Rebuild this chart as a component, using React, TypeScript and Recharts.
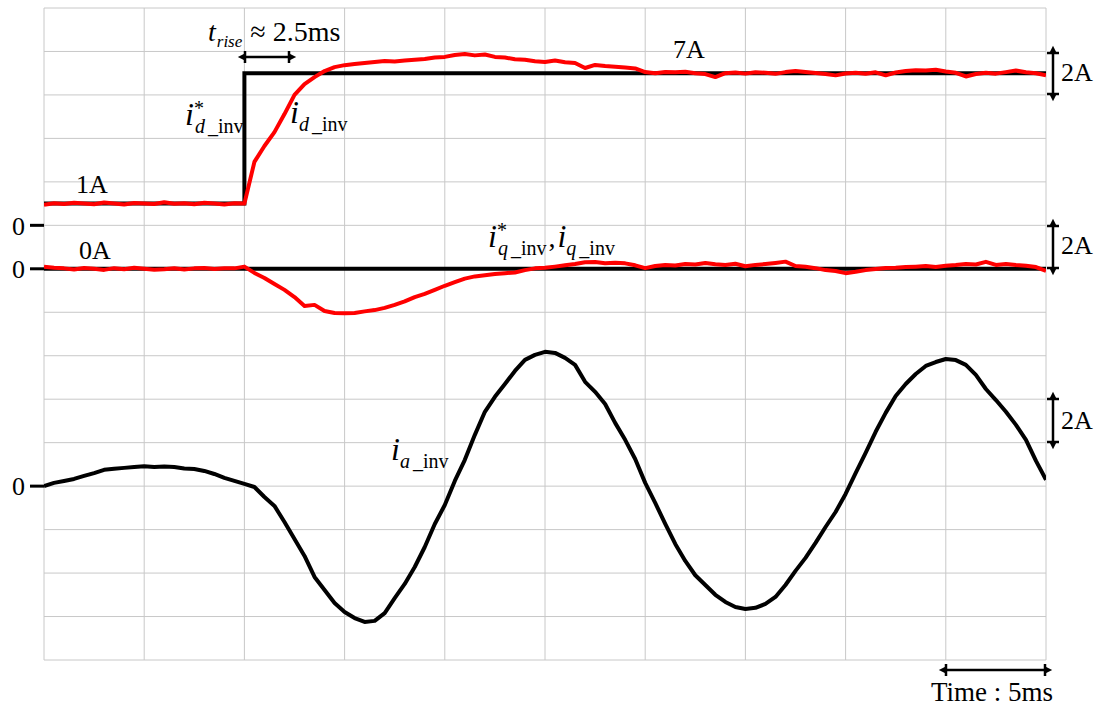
import React from 'react';
import { LineChart, Line, XAxis, YAxis, CartesianGrid } from 'recharts';

const SERIF = '"Liberation Serif", "Times New Roman", serif';

// time base: one sample every 0.5 ms, 10 divisions of 5 ms
const STEP_MS = 0.5;
const timeTicks = [0, 5, 10, 15, 20, 25, 30, 35, 40, 45, 50];
// vertical scale: 15 divisions of 2 A
const divTicks = [0, 2, 4, 6, 8, 10, 12, 14, 16, 18, 20, 22, 24, 26, 28, 30];
// each trace has its own zero on the screen
const ID_OFFSET = 20;
const IQ_OFFSET = 18;
const IA_OFFSET = 8;
const zeroTicks = [IA_OFFSET, IQ_OFFSET, ID_OFFSET];

// measured d-axis current (A)
const idMeasured = [
  0.95, 1.02, 0.98, 1.04, 1.0, 0.97, 1.05, 1.01, 0.96, 1.03, // 0 - 4.5
  1.0, 0.98, 1.06, 0.99, 1.02, 0.97, 1.04, 1.0, 0.96, 1.02, // 5 - 9.5
  1.0, 2.92, 3.65, 4.29, 5.12, 6.0, 6.5, 6.82, 7.1, 7.28, // 10 - 14.5
  7.37, 7.42, 7.47, 7.52, 7.56, 7.54, 7.58, 7.62, 7.65, 7.72, // 15 - 19.5
  7.75, 7.84, 7.88, 7.82, 7.86, 7.75, 7.72, 7.64, 7.62, 7.55, // 20 - 24.5
  7.52, 7.58, 7.5, 7.47, 7.24, 7.38, 7.33, 7.3, 7.26, 7.22, // 25 - 29.5
  7.05, 7.0, 7.06, 7.04, 7.07, 7.0, 6.96, 6.82, 7.0, 7.03, // 30 - 34.5
  6.98, 7.04, 7.02, 6.97, 7.05, 7.1, 7.06, 7.01, 6.96, 6.9, // 35 - 39.5
  6.99, 7.02, 6.97, 7.04, 6.9, 7.03, 7.1, 7.14, 7.12, 7.16, // 40 - 44.5
  7.08, 7.02, 6.85, 6.96, 7.02, 6.98, 7.05, 7.12, 7.04, 7.0, // 45 - 49.5
  6.9,
];

// measured q-axis current (A)
const iqMeasured = [
  0.1, 0.05, 0.02, -0.03, 0.04, 0.0, -0.05, 0.03, -0.02, 0.05,
  0.0, -0.04, -0.02, 0.03, -0.03, 0.02, 0.04, -0.01, 0.03, 0.02,
  0.1, -0.19, -0.42, -0.7, -0.97, -1.3, -1.71, -1.66, -1.94, -2.03,
  -2.05, -2.03, -1.96, -1.9, -1.8, -1.66, -1.5, -1.3, -1.15, -0.97,
  -0.78, -0.61, -0.45, -0.35, -0.3, -0.24, -0.2, -0.17, -0.06, 0.02,
  0.05, 0.1, 0.16, 0.22, 0.3, 0.31, 0.26, 0.28, 0.25, 0.16,
  0.03, 0.13, 0.17, 0.15, 0.22, 0.2, 0.27, 0.21, 0.17, 0.23,
  0.12, 0.18, 0.22, 0.27, 0.33, 0.13, 0.09, 0.03, -0.06, -0.1,
  -0.2, -0.14, -0.06, -0.01, 0.04, 0.05, 0.08, 0.1, 0.13, 0.08,
  0.14, 0.17, 0.22, 0.2, 0.32, 0.18, 0.22, 0.17, 0.14, 0.08,
  -0.1,
];

// phase-a inverter current (A)
const iaMeasured = [
  0.0, 0.15, 0.24, 0.33, 0.47, 0.6, 0.75, 0.8, 0.84, 0.88,
  0.91, 0.88, 0.9, 0.88, 0.81, 0.79, 0.7, 0.56, 0.38, 0.24,
  0.1, -0.04, -0.5, -0.91, -1.65, -2.43, -3.21, -4.18, -4.78, -5.38,
  -5.79, -6.07, -6.25, -6.2, -5.84, -5.15, -4.5, -3.72, -2.8, -1.74,
  -0.87, 0.24, 1.21, 2.36, 3.42, 4.11, 4.7, 5.3, 5.81, 6.04,
  6.18, 6.13, 5.9, 5.58, 4.8, 4.34, 3.78, 2.91, 2.13, 1.25,
  0.15, -0.77, -1.74, -2.66, -3.44, -4.1, -4.55, -5.0, -5.33, -5.56,
  -5.65, -5.6, -5.42, -5.1, -4.55, -3.9, -3.3, -2.61, -1.88, -1.19,
  -0.36, 0.6, 1.53, 2.5, 3.37, 4.15, 4.7, 5.16, 5.53, 5.71,
  5.85, 5.8, 5.58, 5.12, 4.47, 3.96, 3.42, 2.82, 2.13, 1.16,
  0.29,
];

// references
const idRefTime = [0, 10, 10, 50];
const idRefValue = [1, 1, 7, 7];
const iqRefTime = [0, 50];
const iqRefValue = [0, 0];

const data = iaMeasured.map((v, i) => ({
  t: i * STEP_MS,
  id: idMeasured[i] + ID_OFFSET,
  iq: iqMeasured[i] + IQ_OFFSET,
  ia: v + IA_OFFSET,
}));
const idRefData = idRefTime.map((t, i) => ({ t, v: idRefValue[i] + ID_OFFSET }));
const iqRefData = iqRefTime.map((t, i) => ({ t, v: iqRefValue[i] + IQ_OFFSET }));

const blank = () => '';

// i with optional star and "x _inv" subscript, as one text element
const CurLabel = ({ sub, star }: { sub: string; star?: boolean }) => (
  <>
    <tspan fontSize={32} fontStyle="italic">i</tspan>
    {star && <tspan fontSize={20} dx={0} dy={-10}>*</tspan>}
    <tspan fontSize={20} fontStyle="italic" dx={star ? -9 : 0} dy={star ? 18 : 8}>{sub}</tspan>
    <tspan fontSize={20} dx={3}>_inv</tspan>
  </>
);

const Bracket = ({ x1, y1, x2, y2 }: { x1: number; y1: number; x2: number; y2: number }) => {
  const vertical = x1 === x2;
  return (
    <g stroke="#000" strokeWidth={2.5}>
      <line x1={x1} y1={y1} x2={x2} y2={y2} markerStart="url(#ah)" markerEnd="url(#ah)" />
      {vertical ? (
        <>
          <line x1={x1 - 6} y1={y1} x2={x1 + 6} y2={y1} />
          <line x1={x2 - 6} y1={y2} x2={x2 + 6} y2={y2} />
        </>
      ) : (
        <>
          <line x1={x1} y1={y1 - 6} x2={x1} y2={y1 + 6} />
          <line x1={x2} y1={y2 - 6} x2={x2} y2={y2 + 6} />
        </>
      )}
    </g>
  );
};

const Annotations = () => (
  <svg width={1103} height={711} style={{ position: 'absolute', left: 0, top: 0, pointerEvents: 'none' }}>
    <defs>
      <marker id="ah" viewBox="0 0 10 10" refX="1" refY="5" markerWidth="10" markerHeight="8" markerUnits="userSpaceOnUse" orient="auto-start-reverse">
        <path d="M0,5 L10,0 L10,10 z" fill="#000" stroke="none" transform="rotate(180 5 5)" />
      </marker>
    </defs>
    <g fontFamily={SERIF} fill="#000">
      <text x={208} y={41} fontSize={28}>
        <tspan fontStyle="italic">t</tspan>
        <tspan fontSize={17} fontStyle="italic" dx={1} dy={6}>rise</tspan>
        <tspan dx={8} dy={-6}>≈ 2.5ms</tspan>
      </text>
      <text x={76} y={193} fontSize={26}>1A</text>
      <text x={79} y={259} fontSize={26}>0A</text>
      <text x={673} y={58} fontSize={26}>7A</text>
      <text x={1061} y={81} fontSize={26}>2A</text>
      <text x={1061} y={254} fontSize={26}>2A</text>
      <text x={1061} y={429} fontSize={26}>2A</text>
      <text x={931} y={701} fontSize={27}>Time : 5ms</text>
      <text x={185} y={125}><CurLabel sub="d" star /></text>
      <text x={290} y={123}><CurLabel sub="d" /></text>
      <text x={488} y={247}>
        <CurLabel sub="q" star />
        <tspan fontSize={28} dx={2} dy={-8}>,</tspan>
        <tspan fontSize={32} fontStyle="italic" dx={2}>i</tspan>
        <tspan fontSize={20} fontStyle="italic" dy={8}>q</tspan>
        <tspan fontSize={20} dx={3}>_inv</tspan>
      </text>
      <text x={391} y={460}><CurLabel sub="a" /></text>
    </g>
    <Bracket x1={245} y1={57} x2={289} y2={57} />
    <Bracket x1={1053} y1={53} x2={1053} y2={94} />
    <Bracket x1={1053} y1={226} x2={1053} y2={268} />
    <Bracket x1={1053} y1={399} x2={1053} y2={442} />
    <Bracket x1={946} y1={670} x2={1045} y2={670} />
  </svg>
);

export default function App() {
  return (
    <div style={{ position: 'absolute', left: 0, top: 0, width: 1103, height: 711, background: '#fff' }}>
      <LineChart width={1103} height={711} data={data} margin={{ top: 8, right: 57, bottom: 51, left: 0 }}>
        <CartesianGrid stroke="#c8c8c8" strokeWidth={1} />
        <XAxis
          type="number"
          dataKey="t"
          domain={[0, 50]}
          ticks={timeTicks}
          interval={0}
          allowDataOverflow
          mirror
          height={0}
          tickFormatter={blank}
          tickSize={12}
          axisLine={{ stroke: '#6e6e6e', strokeWidth: 2 }}
          tickLine={{ stroke: '#808080', strokeWidth: 1 }}
        />
        <XAxis
          xAxisId="top"
          orientation="top"
          type="number"
          dataKey="t"
          domain={[0, 50]}
          ticks={timeTicks}
          interval={0}
          allowDataOverflow
          mirror
          height={0}
          tickFormatter={blank}
          tickSize={11}
          axisLine={{ stroke: '#a8a8a8', strokeWidth: 1 }}
          tickLine={{ stroke: '#909090', strokeWidth: 1 }}
        />
        <YAxis
          type="number"
          domain={[0, 30]}
          ticks={divTicks}
          interval={0}
          allowDataOverflow
          mirror
          width={0}
          tickFormatter={blank}
          tickSize={11}
          axisLine={{ stroke: '#6e6e6e', strokeWidth: 2 }}
          tickLine={{ stroke: '#909090', strokeWidth: 1 }}
        />
        <YAxis
          yAxisId="right"
          orientation="right"
          type="number"
          domain={[0, 30]}
          ticks={divTicks}
          interval={0}
          allowDataOverflow
          mirror
          width={0}
          tickFormatter={blank}
          tickSize={9}
          axisLine={{ stroke: '#999999', strokeWidth: 1.5 }}
          tickLine={{ stroke: '#909090', strokeWidth: 1 }}
        />
        <YAxis
          yAxisId="zero"
          orientation="left"
          type="number"
          domain={[0, 30]}
          ticks={zeroTicks}
          interval={0}
          allowDataOverflow
          width={44}
          axisLine={false}
          tickSize={14}
          tickMargin={5}
          tickFormatter={() => '0'}
          tick={{ fontSize: 26, fill: '#000', fontFamily: SERIF }}
          tickLine={{ stroke: '#000', strokeWidth: 3 }}
        />
        <Line data={data} dataKey="ia" type="linear" stroke="#000" strokeWidth={4} dot={false} isAnimationActive={false} strokeLinejoin="round" />
        <Line data={iqRefData} dataKey="v" type="linear" stroke="#000" strokeWidth={4} dot={false} isAnimationActive={false} />
        <Line data={idRefData} dataKey="v" type="linear" stroke="#000" strokeWidth={4} dot={false} isAnimationActive={false} />
        <Line data={data} dataKey="iq" type="linear" stroke="#ff0000" strokeWidth={4} dot={false} isAnimationActive={false} strokeLinejoin="round" />
        <Line data={data} dataKey="id" type="linear" stroke="#ff0000" strokeWidth={4} dot={false} isAnimationActive={false} strokeLinejoin="round" />
      </LineChart>
      <Annotations />
    </div>
  );
}
